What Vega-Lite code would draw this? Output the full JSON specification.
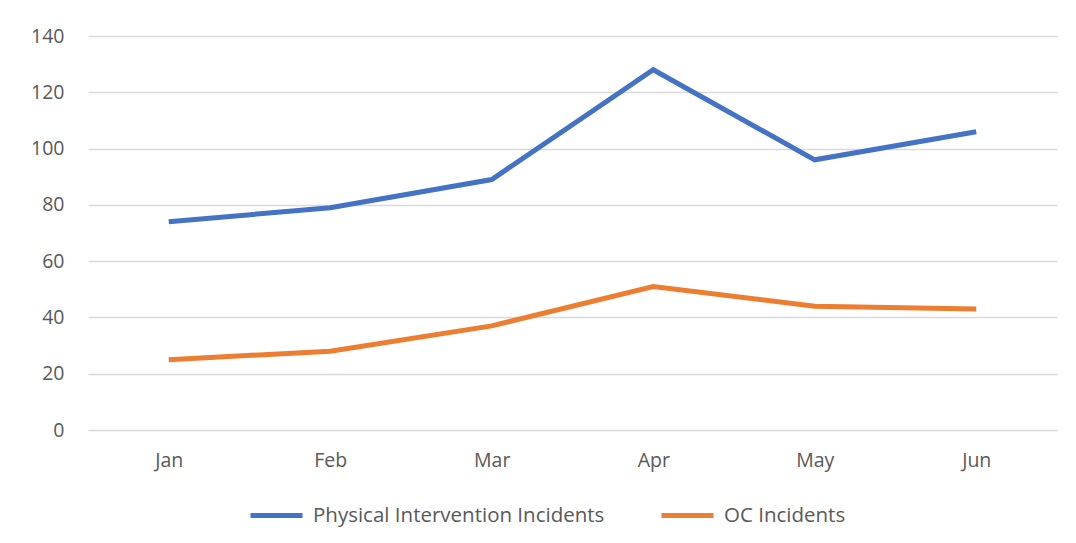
{
  "$schema": "https://vega.github.io/schema/vega-lite/v6.json",
  "autosize": "none",
  "width": 969,
  "height": 394,
  "padding": {"left": 88, "top": 36, "right": 19, "bottom": 113},
  "background": "white",
  "data": {
    "values": [
      {"month": "Jan", "series": "Physical Intervention Incidents", "value": 74},
      {"month": "Feb", "series": "Physical Intervention Incidents", "value": 79},
      {"month": "Mar", "series": "Physical Intervention Incidents", "value": 89},
      {"month": "Apr", "series": "Physical Intervention Incidents", "value": 128},
      {"month": "May", "series": "Physical Intervention Incidents", "value": 96},
      {"month": "Jun", "series": "Physical Intervention Incidents", "value": 106},
      {"month": "Jan", "series": "OC Incidents", "value": 25},
      {"month": "Feb", "series": "OC Incidents", "value": 28},
      {"month": "Mar", "series": "OC Incidents", "value": 37},
      {"month": "Apr", "series": "OC Incidents", "value": 51},
      {"month": "May", "series": "OC Incidents", "value": 44},
      {"month": "Jun", "series": "OC Incidents", "value": 43}
    ]
  },
  "mark": {"type": "line", "strokeWidth": 5, "strokeCap": "butt", "strokeJoin": "miter"},
  "encoding": {
    "x": {
      "field": "month", "type": "ordinal",
      "sort": ["Jan", "Feb", "Mar", "Apr", "May", "Jun"],
      "scale": {"type": "point", "padding": 0.5},
      "axis": {"title": null, "domain": false, "ticks": false, "grid": false, "labelAngle": 0, "labelPadding": 21, "labelFontSize": 19.5, "labelFont": "Open Sans", "labelColor": "#595959"}
    },
    "y": {
      "field": "value", "type": "quantitative",
      "scale": {"domain": [0, 140], "nice": false},
      "axis": {"title": null, "values": [0, 20, 40, 60, 80, 100, 120, 140], "domain": false, "ticks": false, "gridColor": "#D9D9D9", "gridWidth": 1.5, "labelPadding": 24, "labelFontSize": 19.5, "labelFont": "Open Sans", "labelColor": "#595959"}
    },
    "color": {
      "field": "series", "type": "nominal",
      "sort": ["Physical Intervention Incidents", "OC Incidents"],
      "scale": {"domain": ["Physical Intervention Incidents", "OC Incidents"], "range": ["#4472C4", "#ED7D31"]},
      "legend": {
        "title": null, "orient": "none", "direction": "horizontal",
        "legendX": 160, "legendY": 451,
        "symbolType": "stroke", "symbolSize": 2704, "symbolStrokeWidth": 5,
        "labelFontSize": 20.5, "labelFont": "Open Sans", "labelColor": "#595959",
        "labelOffset": 8, "columnPadding": 46, "labelLimit": 400
      }
    }
  },
  "config": {"view": {"stroke": null}}
}
